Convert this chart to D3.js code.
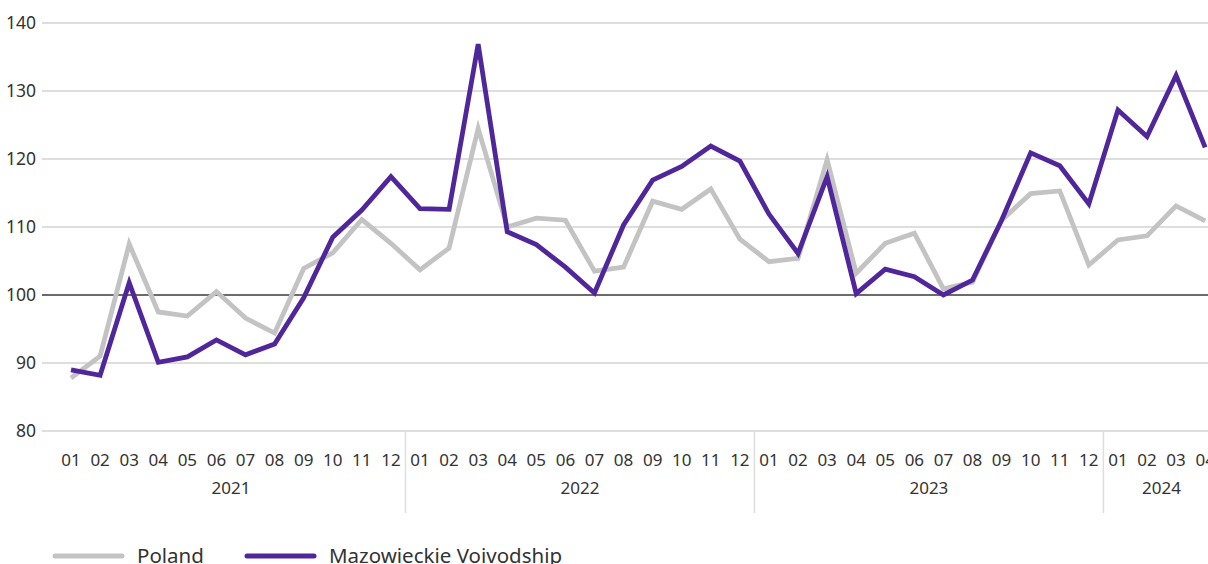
<!DOCTYPE html>
<html>
<head>
<meta charset="utf-8">
<script src="https://cdn.jsdelivr.net/npm/d3@7"></script>
<style>
  html, body { margin: 0; padding: 0; background: #fff; overflow: hidden; }
  svg { display: block; font-family: "Noto Sans", "Open Sans", sans-serif; }
</style>
</head>
<body>
<svg id="chart" width="1208" height="564"></svg>
<script>
const years = ["2021", "2022", "2023", "2024"];
const monthsPerYear = [12, 12, 12, 4];
const monthLabels = ["01","02","03","04","05","06","07","08","09","10","11","12"];
const yTicks = [80, 90, 100, 110, 120, 130, 140];

const poland = [
  87.8, 91.0, 107.5, 97.5, 96.9, 100.5, 96.6, 94.4, 103.9, 106.2, 111.1, 107.6,
  103.7, 106.9, 124.5, 110.0, 111.3, 111.0, 103.5, 104.1, 113.8, 112.6, 115.6, 108.2,
  104.9, 105.4, 119.9, 103.2, 107.6, 109.1, 100.9, 101.9, 111.0, 114.9, 115.3, 104.4,
  108.1, 108.7, 113.1, 110.9
];
const mazowieckie = [
  89.0, 88.2, 101.8, 90.1, 90.9, 93.4, 91.2, 92.8, 99.6, 108.5, 112.5, 117.4,
  112.7, 112.6, 136.9, 109.3, 107.4, 104.1, 100.3, 110.3, 116.9, 118.9, 121.9, 119.7,
  111.9, 106.1, 117.4, 100.2, 103.8, 102.7, 100.0, 102.2, 111.0, 120.9, 119.0, 113.4,
  127.2, 123.3, 132.3, 121.7
];
const seriesNames = ["Poland", "Mazowieckie Voivodship"];
const seriesColors = ["#c3c3c3", "#50279a"];

// build categories
const cats = [];
years.forEach((yr, yi) => {
  for (let m = 0; m < monthsPerYear[yi]; m++) cats.push({ key: yr + "-" + monthLabels[m], year: yr, month: monthLabels[m] });
});

const svg = d3.select("#chart");
const step = 29.08;
const x0 = 56.5;
const x = d3.scaleBand().domain(cats.map(d => d.key)).range([x0, x0 + cats.length * step]).padding(0);
const cx = k => x(k) + x.bandwidth() / 2;
const y = d3.scaleLinear().domain([80, 140]).range([431, 23]);

const textColor = "#333";

// gridlines
const grid = svg.append("g");
grid.selectAll("line").data(yTicks).join("line")
  .attr("x1", 42).attr("x2", 1208)
  .attr("y1", d => y(d)).attr("y2", d => y(d))
  .attr("stroke", d => d === 100 ? "#6b6b6b" : "#dedede")
  .attr("stroke-width", 2);

// y labels
svg.append("g").selectAll("text").data(yTicks).join("text")
  .attr("x", 36).attr("y", d => y(d)).attr("dy", "0.35em")
  .attr("text-anchor", "end").attr("font-size", 17.5).attr("fill", textColor)
  .text(d => d);

// month labels
svg.append("g").selectAll("text").data(cats).join("text")
  .attr("x", d => cx(d.key)).attr("y", 466)
  .attr("text-anchor", "middle").attr("font-size", 17).attr("fill", textColor)
  .text(d => d.month);

// year labels + separators
let idx = 0;
const yearInfo = years.map((yr, yi) => {
  const first = cats[idx].key, last = cats[idx + monthsPerYear[yi] - 1].key;
  idx += monthsPerYear[yi];
  return { yr, first, last };
});
svg.append("g").selectAll("text").data(yearInfo).join("text")
  .attr("x", d => (cx(d.first) + cx(d.last)) / 2).attr("y", 494)
  .attr("text-anchor", "middle").attr("font-size", 17).attr("fill", textColor)
  .text(d => d.yr);
svg.append("g").selectAll("line").data(yearInfo.slice(1)).join("line")
  .attr("x1", d => x(d.first)).attr("x2", d => x(d.first))
  .attr("y1", 431).attr("y2", 513)
  .attr("stroke", "#dedede").attr("stroke-width", 1.5);

// lines
const line = d3.line().x((d, i) => cx(cats[i].key)).y(d => y(d));
[poland, mazowieckie].forEach((s, si) => {
  svg.append("path").datum(s)
    .attr("d", line).attr("fill", "none")
    .attr("stroke", seriesColors[si]).attr("stroke-width", 4.8)
    .attr("stroke-linejoin", "miter").attr("stroke-linecap", "butt");
});

// legend
const legendX = [55, 247];
const lg = svg.append("g");
seriesNames.forEach((n, i) => {
  lg.append("line").attr("x1", legendX[i]).attr("x2", legendX[i] + 67)
    .attr("y1", 556).attr("y2", 556)
    .attr("stroke", seriesColors[i]).attr("stroke-width", 5).attr("stroke-linecap", "round");
  lg.append("text").attr("x", legendX[i] + 82).attr("y", 556).attr("dy", "0.35em")
    .attr("font-size", 20.5).attr("fill", textColor).text(n);
});
</script>
</body>
</html>
